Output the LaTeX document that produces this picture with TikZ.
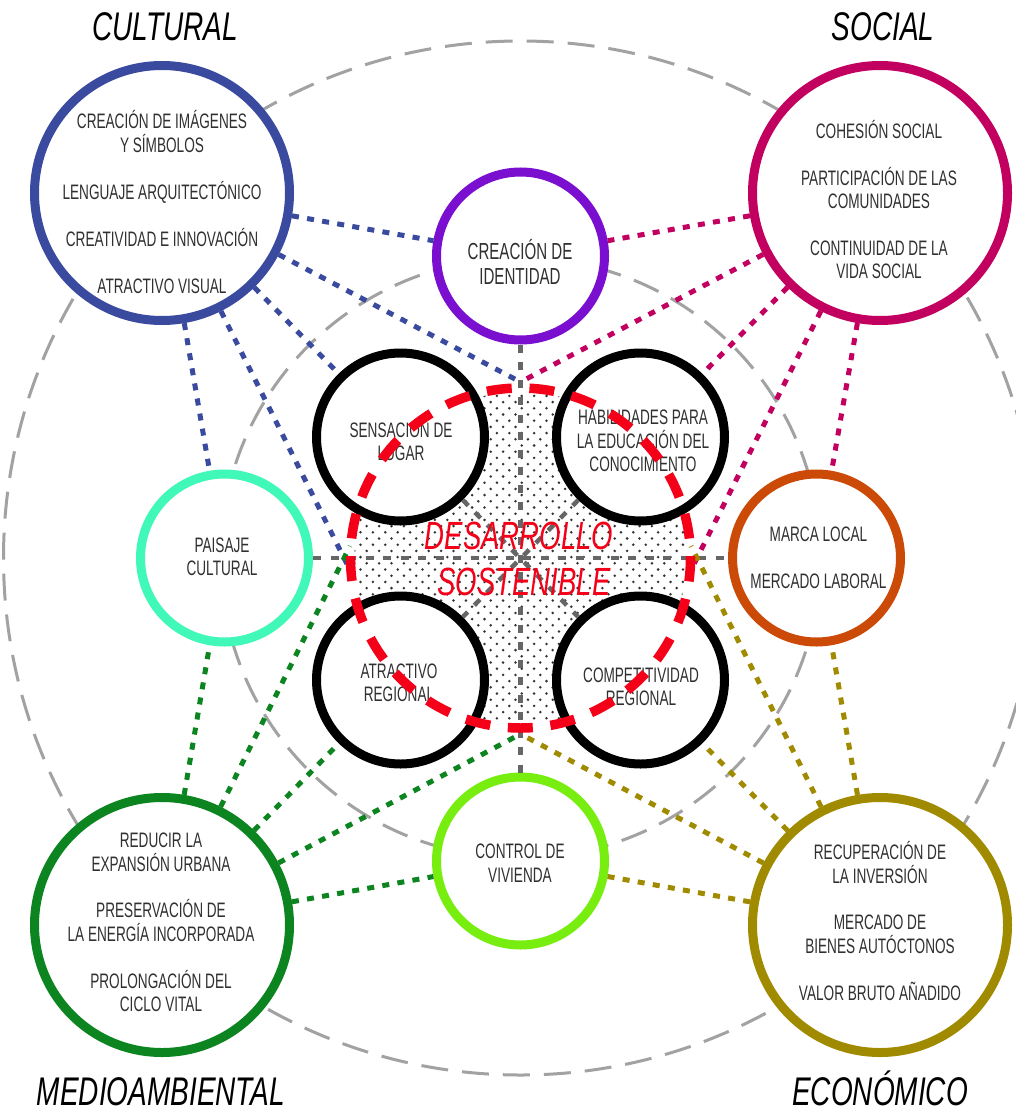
\documentclass[tikz,border=0pt]{standalone}
\usepackage{fontspec}
\setmainfont[FakeStretch=0.65]{Liberation Sans}
\newfontfamily\headfont[FakeStretch=0.70,ItalicFont={Liberation Sans Italic}]{Liberation Sans}
\usetikzlibrary{calc}
\definecolor{cCul}{HTML}{3A4A9F}
\definecolor{cSoc}{HTML}{C20060}
\definecolor{cIde}{HTML}{7A0FD0}
\definecolor{cPai}{HTML}{40F8B8}
\definecolor{cMar}{HTML}{CC4A08}
\definecolor{cMed}{HTML}{0C8420}
\definecolor{cEco}{HTML}{A08A00}
\definecolor{cViv}{HTML}{78EE10}
\definecolor{cRed}{HTML}{F40018}
\definecolor{cArc}{HTML}{A2A2A2}
\definecolor{cAxis}{HTML}{666666}
\definecolor{cTxt}{HTML}{303030}
\newcommand{\px}[1]{#1*0.75pt}
\tikzset{
  x=0.75pt,y=-0.75pt,
  ring/.style={circle,draw=#1,fill=white,line width=\px{9},inner sep=0pt},
  big/.style={ring=#1,minimum size=\px{255}},
  small/.style={ring=#1,minimum size=\px{168}},
  guide/.style={circle,draw=cArc,line width=\px{3},inner sep=0pt,dash pattern=on \px{27} off \px{14}},
  link/.style={draw=#1,line width=\px{5},dash pattern=on \px{7} off \px{8.3}},
  axis/.style={draw=cAxis,line width=\px{4.5},dash pattern=on \px{8} off \px{9.5}},
  body/.style={align=center,text=cTxt,inner sep=0pt,font=\fontsize{15.7pt}{17.6pt}\selectfont},
  bodybig/.style={align=center,text=cTxt,inner sep=0pt,font=\fontsize{17.4pt}{18.8pt}\selectfont},
  head/.style={inner sep=0pt,anchor=base,text=black,font=\fontsize{30pt}{34pt}\headfont\itshape},
  core/.style={inner sep=0pt,text=cRed,font=\fontsize{29.5pt}{34pt}\headfont\itshape}
}
\begin{document}
\begin{tikzpicture}
\useasboundingbox (0,0) rectangle (1016,1113);
\fill[white] (0,0) rectangle (1016,1113);
% guide circles
\node[guide,minimum size=\px{1034}] (outerc) at (520.5,558) {};
\node[guide,minimum size=\px{600}] (innerc) at (520.5,558) {};
% stippled centre
\begin{scope}
\clip (520.5,558) circle[radius=\px{166}];
\foreach \i in {-15,...,15}{
  \foreach \j in {-15,...,15}{
    \fill[black!80] ({515.5+12.4*\i},{563.3+12.4*\j}) circle[radius=\px{1.4}];
    \fill[black!80] ({521.7+12.4*\i},{569.5+12.4*\j}) circle[radius=\px{1.4}];
  }
}
\end{scope}
% free ends of connectors
\coordinate (topc) at (520.5,382);
\coordinate (botc) at (520.5,734);
\coordinate (culend) at (350,570);
\coordinate (socend) at (691,570);
\coordinate (medend) at (350,546);
\coordinate (ecoend) at (691,546);
% rings
\node[big=cCul] (cul) at (162,193) {};
\node[big=cSoc] (soc) at (880,193) {};
\node[big=cMed] (med) at (162,925) {};
\node[big=cEco] (eco) at (880,925) {};
\node[small=cIde] (ide) at (520.5,256) {};
\node[small=cViv] (viv) at (520.5,861) {};
\node[small=cPai] (pai) at (224.5,558) {};
\node[small=cMar] (mar) at (816.5,558) {};
\node[small=black] (sen) at (400.5,437) {};
\node[small=black] (hab) at (640.5,437) {};
\node[small=black] (atr) at (400.5,680) {};
\node[small=black] (cmp) at (640.5,680) {};
% axes
\draw[axis] (ide) -- (viv);
\draw[axis] (pai) -- (mar);
\draw[axis] (sen) -- (cmp);
\draw[axis] (hab) -- (atr);
% connectors
\draw[link=cCul] (cul) -- (ide);
\draw[link=cCul] (cul) -- (topc);
\draw[link=cCul] (cul) -- (sen);
\draw[link=cCul] (cul) -- (culend);
\draw[link=cCul] (cul) -- (pai);
\draw[link=cSoc] (soc) -- (ide);
\draw[link=cSoc] (soc) -- (topc);
\draw[link=cSoc] (soc) -- (hab);
\draw[link=cSoc] (soc) -- (socend);
\draw[link=cSoc] (soc) -- (mar);
\draw[link=cMed] (med) -- (viv);
\draw[link=cMed] (med) -- (botc);
\draw[link=cMed] (med) -- (atr);
\draw[link=cMed] (med) -- (medend);
\draw[link=cMed] (med) -- (pai);
\draw[link=cEco] (eco) -- (viv);
\draw[link=cEco] (eco) -- (botc);
\draw[link=cEco] (eco) -- (cmp);
\draw[link=cEco] (eco) -- (ecoend);
\draw[link=cEco] (eco) -- (mar);
% texts
\node[body] (tcul) at (162,202) {CREACIÓN DE IMÁGENES\\Y SÍMBOLOS\\[17.6pt]LENGUAJE ARQUITECTÓNICO\\[17.6pt]CREATIVIDAD E INNOVACIÓN\\[17.6pt]ATRACTIVO VISUAL};
\node[body] (tsoc) at (879,199.5) {COHESIÓN SOCIAL\\[17.6pt]PARTICIPACIÓN DE LAS\\COMUNIDADES\\[17.6pt]CONTINUIDAD DE LA\\VIDA SOCIAL};
\node[body] (tmed) at (161,922.5) {REDUCIR LA\\EXPANSIÓN URBANA\\[17.6pt]PRESERVACIÓN DE\\LA ENERGÍA INCORPORADA\\[17.6pt]PROLONGACIÓN DEL\\CICLO VITAL};
\node[body] (teco) at (880,921) {RECUPERACIÓN DE\\LA INVERSIÓN\\[17.6pt]MERCADO DE\\BIENES AUTÓCTONOS\\[17.6pt]VALOR BRUTO AÑADIDO};
\node[bodybig] (tide) at (520,262) {CREACIÓN DE\\IDENTIDAD};
\node[body] (tviv) at (520,863) {CONTROL DE\\VIVIENDA};
\node[body] (tpai) at (222,557) {PAISAJE\\CULTURAL};
\node[body] (tmar) at (818.5,557.5) {MARCA LOCAL\\[17.6pt]MERCADO LABORAL};
\node[body] (tsen) at (401,440) {SENSACIÓN DE\\LUGAR};
\node[body] (thab) at (643,441) {HABILIDADES PARA\\LA EDUCACIÓN DEL\\CONOCIMIENTO};
\node[body] (tatr) at (399,683) {ATRACTIVO\\REGIONAL};
\node[body] (tcmp) at (641,687) {COMPETITIVIDAD\\REGIONAL};
% red dashed ring
\node[circle,draw=cRed,line width=\px{9.5},inner sep=0pt,minimum size=\px{340},dash pattern=on \px{25} off \px{17.72},dash phase=\px{23.18}] (redc) at (520.5,558) {};
% core text
\node[core] (des) at (519,536) {DESARROLLO};
\node[core] (sos) at (524,582) {SOSTENIBLE};
% headings
\node[head] (hcul) at (165,41) {CULTURAL};
\node[head] (hsoc) at (883,41) {SOCIAL};
\node[head] (hmed) at (161,1105) {MEDIOAMBIENTAL};
\node[head] (heco) at (880,1105) {ECONÓMICO};
\end{tikzpicture}
\end{document}
